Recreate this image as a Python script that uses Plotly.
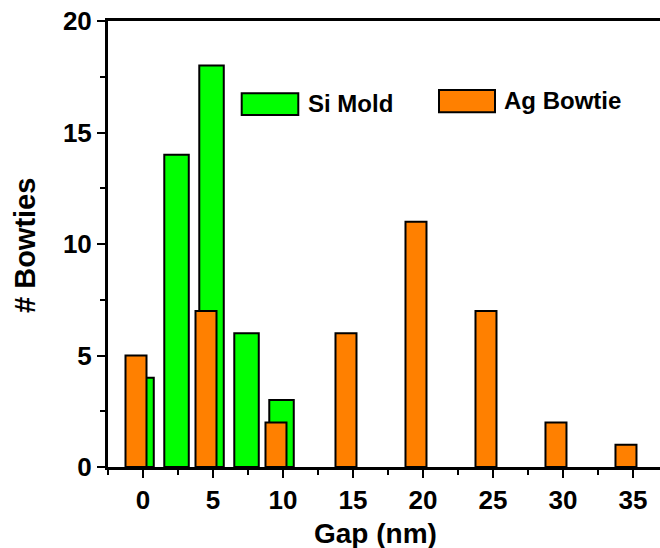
import plotly.graph_objects as go

# Data
si_gap = [0, 2.5, 5, 7.5, 10]
si_count = [4, 14, 18, 6, 3]
ag_gap = [0, 5, 10, 15, 20, 25, 30, 35]
ag_count = [5, 7, 2, 6, 11, 7, 2, 1]
x_ticks = [0, 5, 10, 15, 20, 25, 30, 35]
y_ticks = [0, 5, 10, 15, 20]

GREEN = "#00FF00"
ORANGE = "#FF8000"
FONT = "Liberation Sans, Arial, sans-serif"

fig = go.Figure()
fig.add_trace(go.Bar(
    x=si_gap, y=si_count, name="Si Mold",
    width=1.75, offset=-0.98,
    marker=dict(color=GREEN, line=dict(color="black", width=2)),
    showlegend=False,
))
fig.add_trace(go.Bar(
    x=ag_gap, y=ag_count, name="Ag Bowtie",
    width=1.5, offset=-1.25,
    marker=dict(color=ORANGE, line=dict(color="black", width=2)),
    showlegend=False,
))

W, H = 660, 548
L, T, B, R = 108, 21, 81, 0
pw, ph = W - L - R, H - T - B


def px(xp):
    return (xp - L) / pw


def py(yp):
    return (H - B - yp) / ph


fig.update_layout(
    width=W, height=H,
    margin=dict(l=L, r=R, t=T, b=B, pad=0),
    paper_bgcolor="white", plot_bgcolor="white",
    barmode="overlay",
    font=dict(family=FONT, color="black"),
    xaxis=dict(
        range=[-2.5, 36.93],
        tickvals=x_ticks, ticktext=[str(v) for v in x_ticks],
        ticks="outside", ticklen=8, tickwidth=2, tickcolor="black",
        minor=dict(dtick=2.5, tick0=0, ticks="outside", ticklen=5, tickwidth=2, tickcolor="black", showgrid=False),
        showline=True, linewidth=3, linecolor="black", mirror=True,
        showgrid=False, zeroline=False,
        tickfont=dict(size=26, family=FONT, weight="bold"),
    ),
    yaxis=dict(
        range=[0, 20],
        tickvals=y_ticks, ticktext=[str(v) for v in y_ticks],
        ticks="outside", ticklen=8, tickwidth=2, tickcolor="black",
        minor=dict(dtick=2.5, tick0=0, ticks="outside", ticklen=5, tickwidth=2, tickcolor="black", showgrid=False),
        showline=True, linewidth=3, linecolor="black", mirror=False,
        showgrid=False, zeroline=False,
        tickfont=dict(size=26, family=FONT, weight="bold"),
    ),
)

# Axis titles
fig.add_annotation(text="Gap (nm)", xref="paper", yref="paper",
                   x=px(375), y=py(533), xanchor="center", yanchor="middle",
                   showarrow=False, font=dict(size=28, family=FONT, weight="bold"))
fig.add_annotation(text="# Bowties", xref="paper", yref="paper",
                   x=px(25), y=py(246), xanchor="center", yanchor="middle",
                   textangle=-90,
                   showarrow=False, font=dict(size=29, family=FONT, weight="bold"))

# Legend (manual, large swatches)
legend_items = [
    ("Si Mold", GREEN, (241.7, 93.3, 298.3, 115), (306, 104)),
    ("Ag Bowtie", ORANGE, (439, 90, 495, 112.3), (502, 101)),
]
for label, color, (x0, y0, x1, y1), (tx, ty) in legend_items:
    fig.add_shape(type="rect", xref="paper", yref="paper",
                  x0=px(x0), x1=px(x1), y0=py(y1), y1=py(y0),
                  fillcolor=color, line=dict(color="black", width=2))
    fig.add_annotation(text=label, xref="paper", yref="paper",
                       x=px(tx), y=py(ty), xanchor="left", yanchor="middle",
                       showarrow=False, font=dict(size=24, family=FONT, weight="bold"))

fig.write_html("out.html")
